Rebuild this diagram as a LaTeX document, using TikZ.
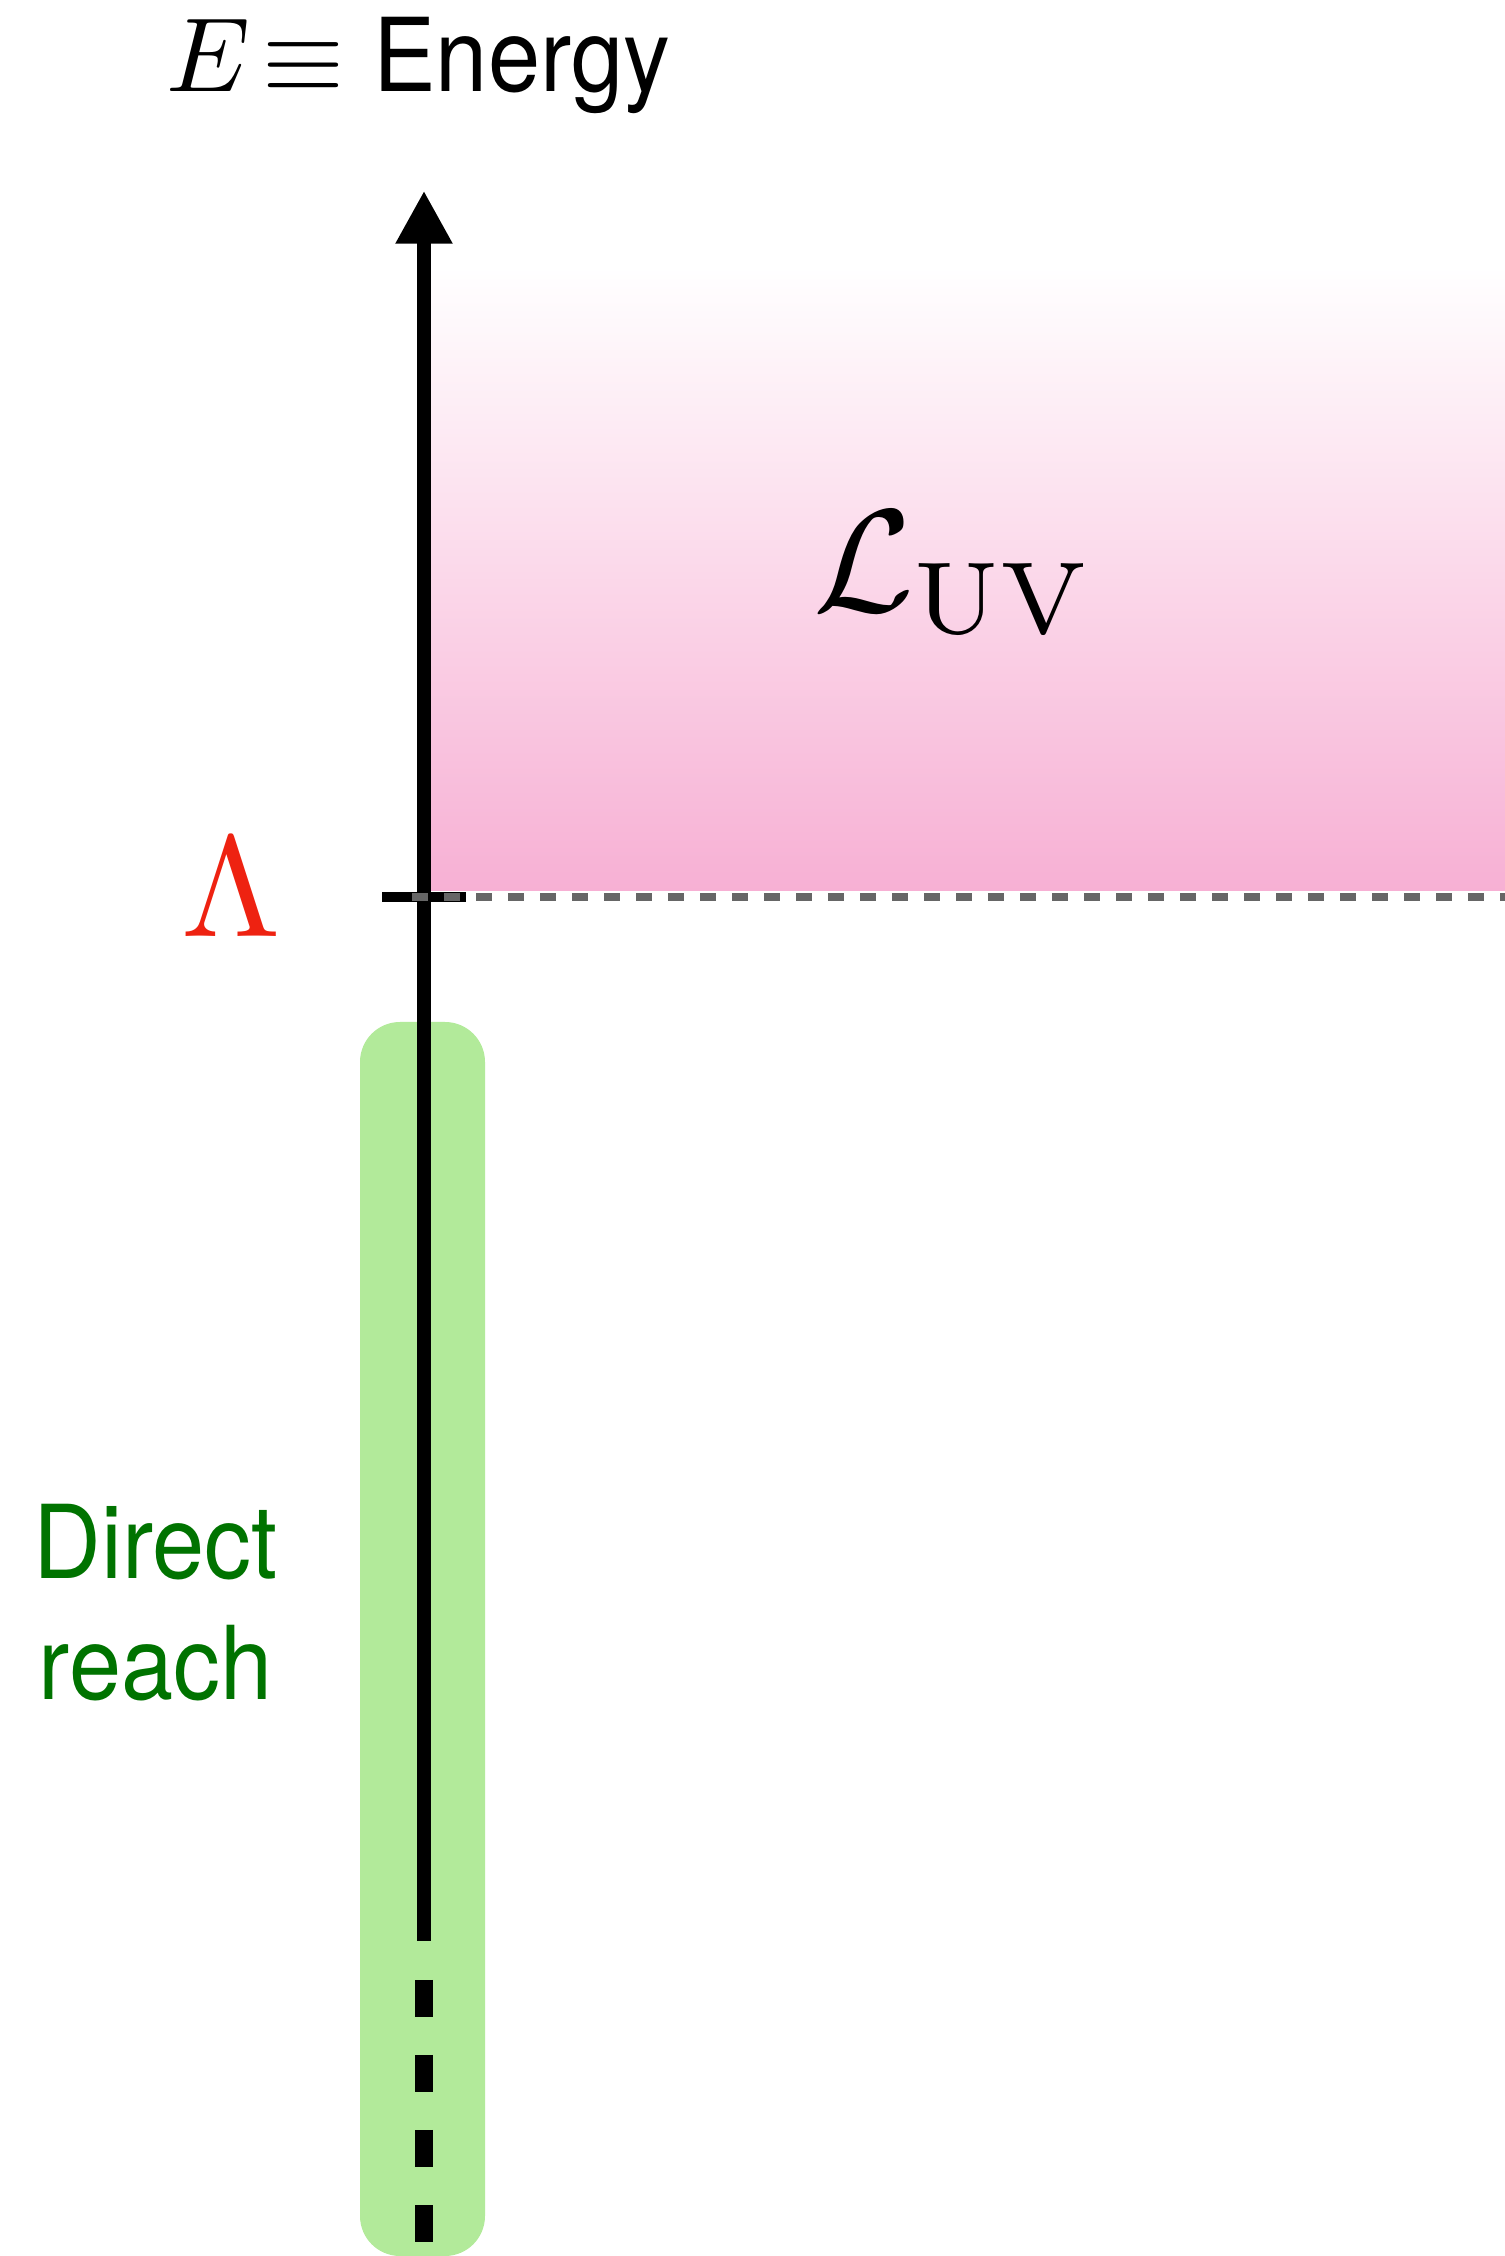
\documentclass[tikz,border=0pt]{standalone}
\usepackage{graphicx}
\usepackage{fontspec}
\newfontfamily\helv[FakeStretch=0.92]{TeX Gyre Heros}
\usetikzlibrary{arrows.meta}
\definecolor{uvpink}{RGB}{247,176,212}
\definecolor{reachgreen}{RGB}{178,234,154}
\definecolor{reachtext}{RGB}{0,115,0}
\definecolor{cutred}{RGB}{238,34,17}
\definecolor{cutgray}{RGB}{102,102,102}

\begin{document}
\begin{tikzpicture}[
  axisline/.style={line width=0.133cm},
  axisdash/.style={line width=0.187cm, dash pattern=on 0.37cm off 0.38cm},
  cutline/.style={line width=0.08cm, cutgray, dash pattern=on 0.16cm off 0.16cm},
  label/.style={inner sep=0pt, anchor=base}
]
  \useasboundingbox (0,0) rectangle (15.05,22.56);

  % UV region and direct reach band
  \shade[top color=white, bottom color=uvpink] (4.24,13.65) rectangle (15.05,19.89);
  \fill[reachgreen, rounded corners=0.4cm] (3.60,0) rectangle (4.85,12.34);

  % energy axis
  \coordinate (axisbase) at (4.24,3.15);
  \coordinate (axistip)  at (4.24,20.653);
  \coordinate (dashtop)  at (4.24,2.76);
  \coordinate (dashbot)  at (4.24,0.14);
  \draw[axisline, -{Triangle[length=0.53cm, width=0.534cm]}] (axisbase) -- (axistip);
  \draw[axisdash] (dashtop) -- (dashbot);

  % cut-off scale
  \coordinate (tickl) at (3.82,13.59);
  \coordinate (tickr) at (4.66,13.59);
  \coordinate (cutl)  at (4.123,13.59);
  \coordinate (cutr)  at (15.05,13.59);
  \draw[line width=0.1cm] (tickl) -- (tickr);
  \draw[cutline] (cutl) -- (cutr);

  % labels
  \node[label, anchor=base west] (title) at (1.66,21.64)
       {\scalebox{3}{$E\!\equiv$}\hspace{0.29cm}{\helv\fontsize{29}{34}\selectfont Energy}};
  \node[label, cutred] (cutoff) at (2.31,13.19) {\scalebox{4.08}{$\Lambda$}};
  \node[label] (luv) at (9.535,16.44) {\scalebox{4.16}{$\mathcal{L}_{\mathrm{UV}}$}};
  \node[label, reachtext, align=center, font=\helv\fontsize{29}{34.7}\selectfont] (reach)
       at (1.555,5.56) {Direct\\reach};
\end{tikzpicture}
\end{document}
